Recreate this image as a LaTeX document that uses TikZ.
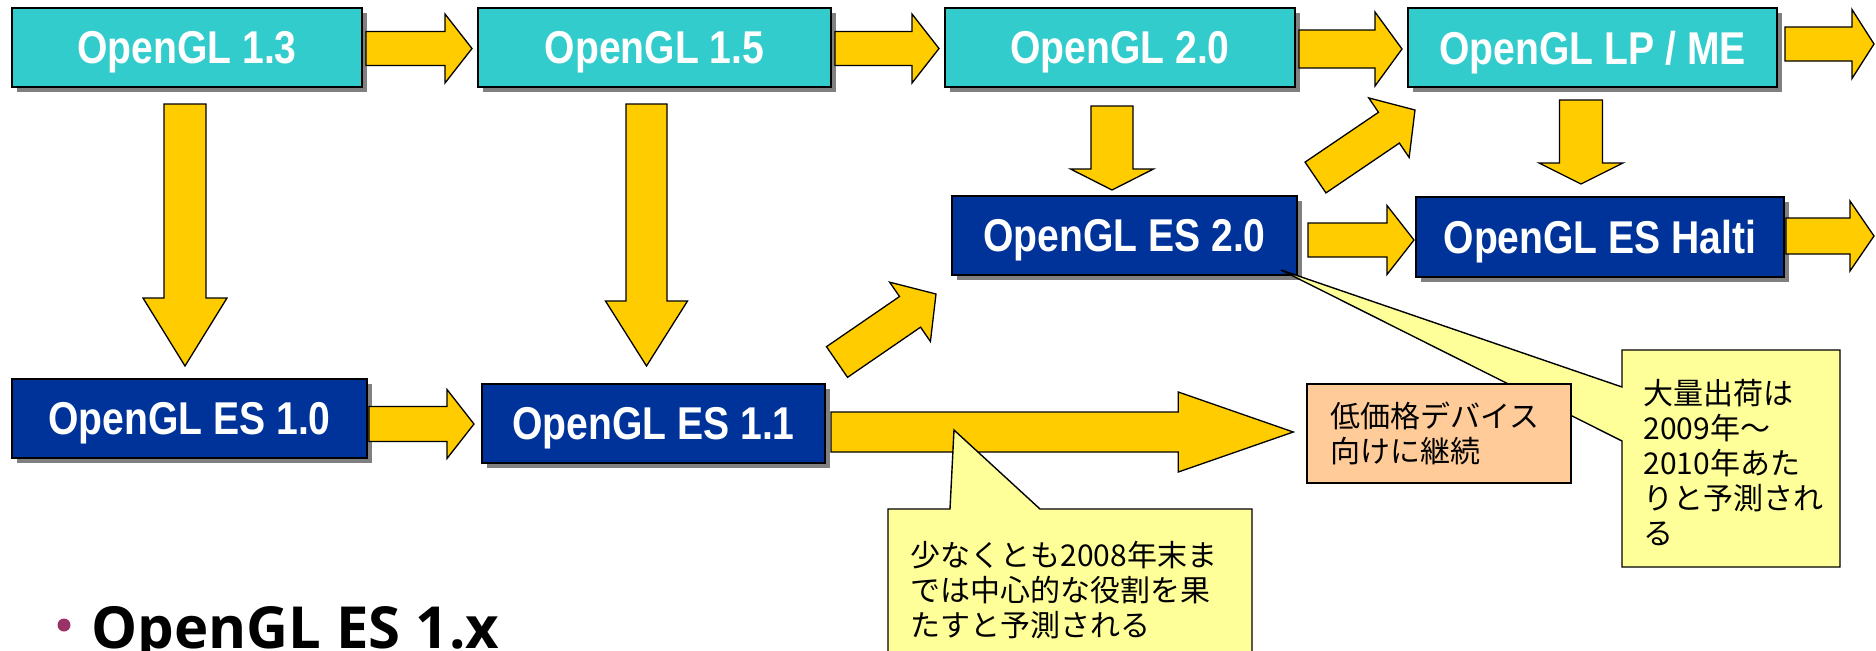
\documentclass[tikz,border=0pt]{standalone}
\usepackage{fontspec}
\usetikzlibrary{calc,shadows}
\newfontfamily\boxfont{Liberation Sans Bold}[FakeStretch=0.85]
\newfontfamily\jpfont{Noto Sans CJK JP}
\newfontfamily\bulfont{Open Sans Bold}
\definecolor{glcyan}{HTML}{33CCCC}
\definecolor{glblue}{HTML}{003399}
\definecolor{arrowyellow}{HTML}{FFCC00}
\definecolor{noteyellow}{HTML}{FFFF99}
\definecolor{noteorange}{HTML}{FFCC99}
\definecolor{shadowgray}{HTML}{808080}
\definecolor{bulletpurple}{HTML}{993366}
% block arrow: #1 start, #2 tip, #3 shaft half width, #4 head half width, #5 head length
\newcommand\blockarr[5]{%
  \coordinate (ba-s) at #1;
  \coordinate (ba-t) at #2;
  \coordinate (ba-b) at ($(ba-t)!#5!(ba-s)$);
  \draw[blockarrow] ($(ba-s)!#3!90:(ba-t)$) -- ($(ba-b)!#3!-90:(ba-s)$) -- ($(ba-b)!#4!-90:(ba-s)$) -- (ba-t)
     -- ($(ba-b)!#4!90:(ba-s)$) -- ($(ba-b)!#3!90:(ba-s)$) -- ($(ba-s)!#3!-90:(ba-t)$) -- cycle;}
\tikzset{
  glbox/.style={draw=black, line width=1pt, inner sep=0pt, text=white, text depth=0pt,
    font=\boxfont\fontsize{23}{27}\selectfont, minimum height=39.5pt,
    general shadow={fill=shadowgray, shadow xshift=2.5pt, shadow yshift=-2.5pt}},
  topbox/.style={glbox, fill=glcyan},
  esbox/.style={glbox, fill=glblue},
  blockarrow/.style={draw=black, line width=0.65pt, fill=arrowyellow, line join=miter},
  note/.style={draw=black, line width=0.7pt, fill=noteyellow, line join=miter},
  notetext/.style={inner sep=0pt, anchor=north west, align=left,
    font=\jpfont\fontsize{15}{17.5}\selectfont},
}
\begin{document}
\begin{tikzpicture}[x=0.5pt, y=-0.5pt]
\useasboundingbox (0,0) rectangle (1876,650);
\clip (0,0) rectangle (1876,650);
\fill[white] (0,0) rectangle (1876,650);

% version boxes
\node[topbox, minimum width=175pt] (n13) at (187,47.5) {OpenGL 1.3};
\node[topbox, minimum width=176.5pt] (n15) at (654.5,47.5) {OpenGL 1.5};
\node[topbox, minimum width=175pt] (n20) at (1120,47.5) {OpenGL 2.0};
\node[topbox, minimum width=184.5pt] (nlp) at (1592.5,47.5) {OpenGL LP / ME};
\node[esbox, minimum width=177.5pt] (es10) at (189.5,418.5) {OpenGL ES 1.0};
\node[esbox, minimum width=171.5pt] (es11) at (653.5,423.5) {OpenGL ES 1.1};
\node[esbox, minimum width=172.5pt] (es20) at (1124.5,235.5) {OpenGL ES 2.0};
\node[esbox, minimum width=184pt, minimum height=40pt] (halti) at (1600,237) {OpenGL ES Halti};

\coordinate (lpout) at (1874,44);
\coordinate (haltiout) at (1874,236);

% top row arrows
\blockarr{($(n13.east)+(3,1)$)}{($(n15.west)+(-5,1)$)}{8.5pt}{17.25pt}{13.5pt}
\blockarr{($(n15.east)+(3,1)$)}{($(n20.west)+(-5,1)$)}{8.5pt}{17.25pt}{13.5pt}
\blockarr{($(n20.east)+(3,1.5)$)}{($(nlp.west)+(-5,1.5)$)}{9.5pt}{18.5pt}{13.5pt}
\blockarr{($(nlp.east)+(7,-3.5)$)}{(lpout)}{8.5pt}{17.25pt}{11pt}
% down arrows
\blockarr{($(n13.south)+(-2,16)$)}{($(es10.north)+(-4.5,-12)$)}{10.5pt}{21pt}{34pt}
\blockarr{($(n15.south)+(-8,16)$)}{($(es11.north)+(-7,-17)$)}{10.25pt}{20.5pt}{32.5pt}
\blockarr{($(n20.south)+(-8,18)$)}{($(es20.north)+(-12.5,-5)$)}{10.5pt}{20.75pt}{10.5pt}
\blockarr{($(nlp.south)+(-11.5,12)$)}{($(halti.north)+(-19,-12)$)}{10.75pt}{21pt}{10.5pt}
% horizontal arrows of the ES row
\blockarr{($(es10.east)+(1,5.5)$)}{($(es11.west)+(-7,0.5)$)}{8.75pt}{17.25pt}{13.5pt}
\blockarr{($(es20.east)+(10,4.5)$)}{($(halti.west)+(-1,3)$)}{8.5pt}{17.25pt}{13.5pt}
\blockarr{($(halti.east)+(1,-1)$)}{(haltiout)}{9pt}{17.5pt}{12pt}
% diagonal arrows
\blockarr{($(es11.north east)+(11,-21)$)}{($(es20.south west)+(-15,18)$)}{9.3pt}{18pt}{15.75pt}
\blockarr{($(es20.north east)+(17.5,-17.5)$)}{($(nlp.south west)+(8,22)$)}{9.3pt}{18pt}{15.75pt}

% callout about mass shipping
\coordinate (tip2) at ($(es20.south east)+(-17,-6)$);
\draw[note] (1622,350) -- (1840,350) -- (1840,567) -- (1622,567) -- (1622,441) -- (tip2) -- (1622,387) -- cycle;

% low price box
\node[draw=black, line width=0.7pt, fill=noteorange, minimum width=132pt, minimum height=49.5pt, inner sep=0pt] (low) at (1439,433.5) {};

% big arrow
\blockarr{($(es11.east)+(5,8.5)$)}{($(low.west)+(-13,-1.5)$)}{10pt}{20pt}{57.5pt}

% callout about 2008
\coordinate (tip1) at ($(es11.east)+(128,6.5)$);
\draw[note] (888,509) -- (950,509) -- (tip1) -- (1040,509) -- (1252,509) -- (1252,662) -- (888,662) -- cycle;

% texts
\node[notetext] (c1t) at (910,541) {少なくとも2008年末ま\\では中心的な役割を果\\たすと予測される};
\node[notetext] (c2t) at (1643,379) {大量出荷は\\2009年～\\2010年あた\\りと予測され\\る};
\node[notetext] (lowt) at (1330,402) {低価格デバイス\\向けに継続};

% bullet line
\node[circle, fill=bulletpurple, minimum size=6.5pt, inner sep=0pt] (bul) at (64,625) {};
\node[anchor=base west, inner sep=0pt, font=\bulfont\fontsize{29}{32}\selectfont] (bultext) at (91,648) {OpenGL ES 1.x};
\end{tikzpicture}
\end{document}
